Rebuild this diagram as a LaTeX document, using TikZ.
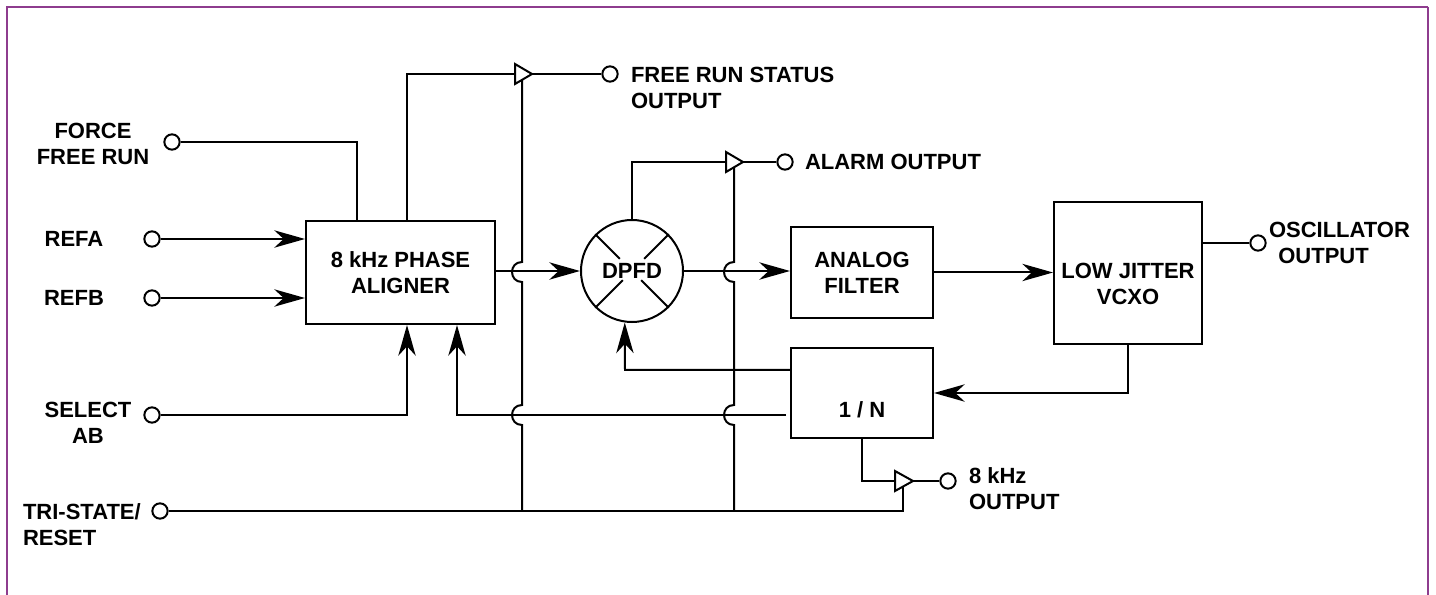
\documentclass[tikz,border=0pt]{standalone}
\usepackage{fontspec}
\setmainfont{Liberation Sans}
\usetikzlibrary{arrows.meta,calc}
\definecolor{framec}{RGB}{142,60,142}
\newcommand\dlfont{\fontsize{16.5pt}{19.5pt}\selectfont\bfseries}
\begin{document}
\begin{tikzpicture}[x=0.75pt,y=-0.75pt,line width=1.5pt,
  box/.style={draw,rectangle,inner sep=0pt,align=center,font=\dlfont},
  txt/.style={inner sep=0pt,align=center,font=\dlfont},
  term/.style={draw,circle,fill=white,minimum size=11.5pt,inner sep=0pt},
  arr/.style={-{Stealth[length=23pt,width=13pt,inset=7pt]}},
  bufshape/.style={line join=miter}]
\useasboundingbox (0,0) rectangle (1436,595);
% frame
\draw[framec,line width=1.5pt] (7,595) -- (7,7) -- (1428,7);
\draw[framec,line width=0.8pt] (1428,7) -- (1428,595);

% blocks
\node[box,minimum width=141.75pt,minimum height=77.25pt] (pa) at (400.5,272.5) {8 kHz PHASE\\ALIGNER};
\node[draw,circle,minimum size=76.5pt,inner sep=0pt,font=\dlfont] (dpfd) at (632,271) {DPFD};
\node[box,minimum width=106.5pt,minimum height=68.25pt] (af) at (862,272.5) {ANALOG\\FILTER};
\node[box,minimum width=111pt,minimum height=106.5pt] (vcxo) at (1128,273) {};
\node[txt] (tvcxo) at (1128,284) {LOW JITTER\\VCXO};
\node[box,minimum width=106.5pt,minimum height=67.5pt] (np) at (862,393) {};
\node[txt] (tnp) at (862,410) {1 / N};

% DPFD cross marks
\draw (dpfd.45) -- ($(dpfd.center)!0.33!(dpfd.45)$);
\draw (dpfd.135) -- ($(dpfd.center)!0.33!(dpfd.135)$);
\draw (dpfd.225) -- ($(dpfd.center)!0.25!(dpfd.225)$);
\draw (dpfd.315) -- ($(dpfd.center)!0.25!(dpfd.315)$);

% buffers
\coordinate (b1in) at (515,74); \coordinate (b1out) at (532,74); \coordinate (b1en) at (522,80);
\coordinate (b2in) at (726,162); \coordinate (b2out) at (743,162); \coordinate (b2en) at (734,167);
\coordinate (b3in) at (895,481); \coordinate (b3out) at (913,481); \coordinate (b3en) at (903,487);
\draw[bufshape] (515,64) -- (b1out) -- (515,84) -- cycle;
\draw[bufshape] (726,152) -- (b2out) -- (726,172) -- cycle;
\draw[bufshape] (895,471) -- (b3out) -- (895,491) -- cycle;

% terminals
\node[term] (ffr) at (172,142) {};
\node[term] (refa) at (152,239) {};
\node[term] (refb) at (152,298) {};
\node[term] (sel) at (152,415) {};
\node[term] (tri) at (160,511) {};
\node[term] (fsout) at (610,74) {};
\node[term] (alout) at (785,162) {};
\node[term] (osc) at (1258,243) {};
\node[term] (k8) at (948,481) {};

% connectors
\coordinate (ffrc) at (357,142);
\draw (ffr) -- (ffrc) -- (ffrc |- pa.north);
\draw[arr] (refa) -- (refa -| pa.west);
\draw[arr] (refb) -- (refb -| pa.west);
\coordinate (selc) at (407,415);
\draw[arr] (sel) -- (selc) -- (selc |- pa.south);
\coordinate (st) at (407,74);
\draw (st |- pa.north) -- (st) -- (b1in);
\draw (b1out) -- (fsout);
\draw (dpfd.north) -- (dpfd.north |- b2in) -- (b2in);
\draw (b2out) -- (alout);
\draw[arr] (pa.east |- dpfd.west) -- (dpfd.west);
\draw[arr] (dpfd.east) -- (dpfd.east -| af.west);
\draw[arr] (af.east) -- (af.east -| vcxo.west);
\draw (vcxo.east |- osc) -- (osc);
\draw[arr] (vcxo.south) -- (vcxo.south |- np.east) -- (np.east);
\coordinate (fb1) at (625,370);
\draw[arr] (np.west |- fb1) -- (fb1) -- (dpfd.-98);
\coordinate (fb2) at (457,415);
\draw[arr] ([xshift=-3pt]np.west |- fb2) -- (fb2) -- (fb2 |- pa.south);
\draw (np.south) -- (np.south |- b3in) -- (b3in);
\draw (b3out) -- (k8);
\draw (tri) -- (tri -| b3en) -- (b3en);
% enable lines with hops
\draw (b1en) -- (522,262) .. controls (508.7,262) and (508.7,282) .. (522,282)
  -- (522,405) .. controls (508.7,405) and (508.7,425) .. (522,425) -- (522,511);
\draw (b2en) -- (734,262) .. controls (720.7,262) and (720.7,282) .. (734,282)
  -- (734,405) .. controls (720.7,405) and (720.7,425) .. (734,425) -- (734,511);

% labels
\node[txt] (tffr) at (93,144) {FORCE\\FREE RUN};
\node[txt] (trefa) at (74,239) {REFA};
\node[txt] (trefb) at (74,298) {REFB};
\node[txt] (tsel) at (88,423) {SELECT\\AB};
\node[txt,anchor=west,align=left] (ttri) at (22,525) {TRI-STATE/\\RESET};
\node[txt,anchor=west,align=left] (tfs) at (630,88) {FREE RUN STATUS\\OUTPUT};
\node[txt,anchor=west] (tal) at (804,162) {ALARM OUTPUT};
\node[txt,anchor=west,align=left] (tosc) at (1268,243) {OSCILLATOR\\\hspace*{7pt}OUTPUT};
\node[txt,anchor=west,align=left] (t8k) at (968,489) {8 kHz\\OUTPUT};
\end{tikzpicture}
\end{document}
